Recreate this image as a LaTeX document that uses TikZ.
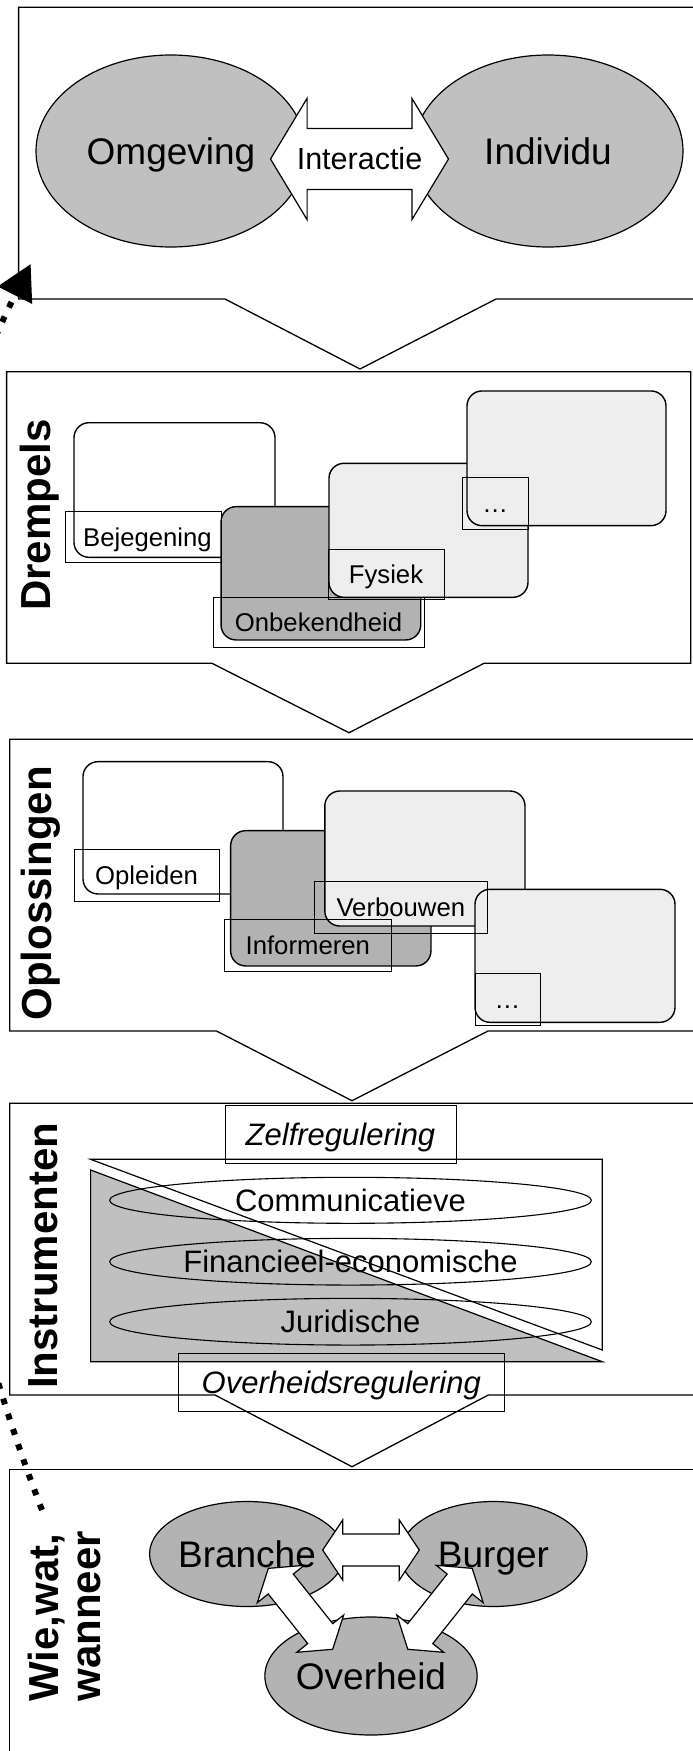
\documentclass[tikz,border=0pt]{standalone}
\usepackage{fontspec}
\setmainfont{Liberation Sans}
\usetikzlibrary{shapes.geometric,arrows.meta}
\definecolor{silverfill}{RGB}{192,192,192}
\definecolor{darkfill}{RGB}{178,178,178}
\definecolor{lightfill}{RGB}{238,238,238}
\definecolor{wiefill}{RGB}{179,179,179}
\newcommand{\dblblock}[6]{%
\begin{scope}[shift={#1},rotate=#2]
\draw[blockarrow] (-#3,0) -- (-#3+#4,-#5) -- (-#3+#4,-#6) -- (#3-#4,-#6) -- (#3-#4,-#5) -- (#3,0) -- (#3-#4,#5) -- (#3-#4,#6) -- (-#3+#4,#6) -- (-#3+#4,#5) -- cycle;
\end{scope}}
\tikzset{
 secbox/.style={draw=black, line width=1.3pt, fill=white, line join=miter},
 bigell/.style={ellipse, draw=black, line width=1.2pt, inner sep=0pt, font=\fontsize{37}{44}\selectfont, text height=26.5pt, text depth=0pt},
 blockarrow/.style={draw=black, line width=1.2pt, fill=white, line join=miter},
 rbox/.style={rectangle, rounded corners=15pt, draw=black, line width=1.4pt, inner sep=0pt},
 lbl/.style={rectangle, draw=black, line width=0.7pt, inner sep=0pt, font=\fontsize{25.7}{30}\selectfont, text height=18.4pt, text depth=0pt},
 instell/.style={ellipse, draw=black, line width=1.1pt, inner sep=0pt, minimum width=481.7pt, font=\fontsize{31}{36}\selectfont, text height=22.2pt, text depth=0pt},
 ilbl/.style={rectangle, draw=black, line width=0.7pt, inner sep=0pt, font=\fontsize{31}{36}\selectfont\itshape, text height=22.2pt, text depth=0pt},
 vtitle/.style={rotate=90, inner sep=0pt, font=\fontsize{42}{46}\selectfont\bfseries},
 tri/.style={draw=black, line width=1.2pt, line join=miter},
 dotline/.style={line width=6pt, dash pattern=on 6pt off 10pt, -{Triangle[length=35pt,width=37pt]}},
}
\begin{document}
\begin{tikzpicture}[x=1pt,y=-1pt]
\useasboundingbox (0,0) rectangle (693,1751);
\begin{scope}
\clip (0,0) rectangle (693,1751);
\fill[white] (0,0) rectangle (693,1751);

% ---------- section 1: Omgeving / Individu ----------
\draw[secbox] (18.6,7.3) -- (700,7.3) -- (700,299) -- (496,299) -- (360,369) -- (225,299) -- (18.6,299) -- cycle;
\node[bigell, fill=silverfill, minimum width=270pt, minimum height=192pt] (omg) at (171,151) {Omgeving};
\node[bigell, fill=silverfill, minimum width=270pt, minimum height=192pt] (ind) at (548,151) {Individu};
\dblblock{(359.5,159)}{0}{89}{36.6}{60.7}{30.5}
\node[inner sep=0pt, font=\fontsize{30.5}{36}\selectfont, text height=21.8pt, text depth=0pt] (inter) at (359.5,159) {Interactie};

% ---------- section 2: Drempels ----------
\draw[secbox] (6.6,371.7) -- (690.7,371.7) -- (690.7,663.3) -- (484,663.3) -- (349,732.7) -- (212,663.3) -- (6.6,663.3) -- cycle;
\node[vtitle, anchor=base] (drempels) at (50,515) {Drempels};
\node[rbox, fill=white, minimum width=201pt, minimum height=134.6pt] (bejbox) at (174.5,490) {};
\node[lbl, minimum width=156pt, minimum height=51pt] (bejlbl) at (143,537.2) {\hspace*{9pt}Bejegening};
\node[rbox, fill=darkfill, minimum width=199.7pt, minimum height=133.3pt] (onbbox) at (320.9,573.3) {};
\node[rbox, fill=lightfill, minimum width=199pt, minimum height=134pt] (fysbox) at (428.5,530.3) {};
\node[rbox, fill=lightfill, minimum width=199pt, minimum height=134.7pt] (dr4box) at (566.5,458.3) {};
\node[lbl, minimum width=211pt, minimum height=50pt] (onblbl) at (318.5,622.3) {Onbekendheid};
\node[lbl, minimum width=116pt, minimum height=50pt] (fyslbl) at (386,574.3) {Fysiek};
\node[lbl, minimum width=65.3pt, minimum height=52pt] (dr4lbl) at (495.3,503.3) {…};

% ---------- section 3: Oplossingen ----------
\draw[secbox] (9.7,739.3) -- (700,739.3) -- (700,1031) -- (488,1031) -- (352,1100.7) -- (216.5,1031) -- (9.7,1031) -- cycle;
\node[vtitle, anchor=base] (oplossingen) at (51,893.3) {Oplossingen};
\node[rbox, fill=white, minimum width=200pt, minimum height=132.3pt] (oplbox) at (183,827.8) {};
\node[rbox, fill=darkfill, minimum width=200.3pt, minimum height=135.3pt] (infbox) at (330.8,898.3) {};
\node[rbox, fill=lightfill, minimum width=200.2pt, minimum height=135pt] (verbox) at (424.9,858.5) {};
\node[rbox, fill=lightfill, minimum width=200pt, minimum height=133pt] (op4box) at (575,955.8) {};
\node[lbl, minimum width=145pt, minimum height=52.4pt] (opllbl) at (146.5,875.5) {Opleiden};
\node[lbl, minimum width=166.5pt, minimum height=52.4pt] (inflbl) at (307.8,945.5) {Informeren};
\node[lbl, minimum width=172.4pt, minimum height=51.6pt] (verlbl) at (400.8,907.5) {Verbouwen};
\node[lbl, minimum width=65pt, minimum height=51.7pt] (op4lbl) at (507.5,999.2) {…};

% ---------- section 4: Instrumenten ----------
\draw[secbox] (9.7,1103.3) -- (700,1103.3) -- (700,1395) -- (488.3,1395) -- (352,1466.7) -- (215,1395) -- (9.7,1395) -- cycle;
\node[vtitle, anchor=base] (instrumenten) at (57,1255.8) {Instrumenten};
\filldraw[tri, fill=white] (90.6,1159.3) -- (602.3,1159.3) -- (602.3,1350) -- cycle;
\filldraw[tri, fill=silverfill] (90.6,1170) -- (90.6,1361.7) -- (602.3,1361.7) -- cycle;
\node[instell, minimum height=46pt] (comm) at (350.5,1200.3) {Communicatieve};
\node[instell, minimum height=46.7pt] (fin) at (350.5,1261.7) {Financieel-economische};
\node[instell, minimum height=46.7pt] (jur) at (350.5,1321.7) {Juridische};
\node[ilbl, minimum width=231pt, minimum height=58.3pt] (zelf) at (340.5,1134.2) {Zelfregulering};
\node[ilbl, minimum width=326pt, minimum height=57.7pt] (overreg) at (341.3,1382.2) {Overheidsregulering};

% ---------- section 5: Wie, wat, wanneer ----------
\draw[secbox] (9.7,1469.3) -- (700,1469.3) -- (700,1760) -- (9.7,1760) -- cycle;
\node[vtitle, anchor=base west] (wie1) at (58.5,1701.7) {Wie,wat,};
\node[vtitle, anchor=base west] (wie2) at (100,1701.7) {wanneer};
\node[bigell, fill=wiefill, minimum width=186pt, minimum height=105pt] (branche) at (247,1554) {Branche};
\node[bigell, fill=wiefill, minimum width=187pt, minimum height=105pt] (burger) at (493.5,1554) {Burger};
\node[bigell, fill=wiefill, minimum width=192pt, minimum height=118pt] (overheid) at (371,1676) {Overheid};
\dblblock{(371,1550)}{0}{48.3}{20}{30}{16}
\dblblock{(300.5,1608.8)}{-51.5}{51.7}{20}{30}{16}
\dblblock{(440,1608.8)}{51.5}{51.7}{20}{30}{16}

% ---------- dotted feedback arrow ----------
\coordinate (dotstart) at (42,1510);
\coordinate (dotend) at (30.7,264);
\draw[dotline] (dotstart) .. controls (-102,1138) and (-149.3,620) .. (dotend);
\end{scope}
\end{tikzpicture}
\end{document}
